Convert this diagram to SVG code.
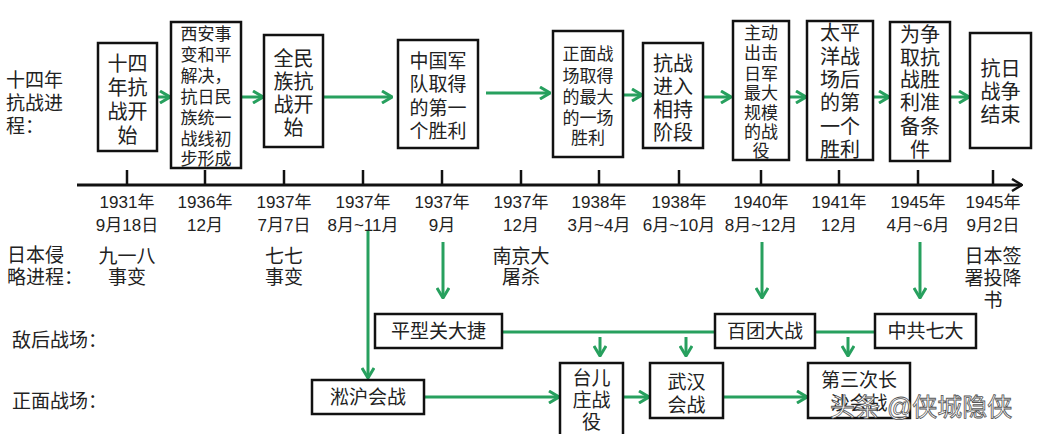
<svg xmlns="http://www.w3.org/2000/svg" width="1041" height="434" viewBox="0 0 1041 434">
<style>
text{font-family:"Liberation Sans","Noto Sans CJK SC",sans-serif;fill:#222;}
.box{fill:#fff;stroke:#111;stroke-width:2.5;}
.c{text-anchor:middle;}
.f20{font-size:20px;}
.f19{font-size:19px;}
.f17{font-size:17px;}
.g{stroke:#27a05e;stroke-width:3;fill:none;}
.gs{stroke:#27a05e;stroke-width:3;fill:none;marker-end:url(#ga);}
.tick{stroke:#111;stroke-width:2.5;}
.wm{font-size:25px;fill:#fff;stroke:#555;stroke-width:0.8;}
</style>
<defs>
<marker id="ga" viewBox="0 0 12 14" refX="11" refY="7" markerWidth="12" markerHeight="14" markerUnits="userSpaceOnUse" orient="auto">
<path d="M1,1 L11,7 L1,13" fill="none" stroke="#27a05e" stroke-width="3"/>
</marker>
<marker id="ka" viewBox="0 0 12 14" refX="11" refY="7" markerWidth="12" markerHeight="14" markerUnits="userSpaceOnUse" orient="auto">
<path d="M1,1 L11,7 L1,13" fill="none" stroke="#111" stroke-width="2.5"/>
</marker>
</defs>
<rect width="1041" height="434" fill="#fff"/>

<g id="labels">
<text class="f19" x="6" y="87">十四年<tspan x="6" y="110">抗战进</tspan><tspan x="6" y="133">程：</tspan></text>
<text class="f19" x="7" y="262">日本侵<tspan x="7" y="284">略进程：</tspan></text>
<text class="f19" x="12" y="347">敌后战场：</text>
<text class="f19" x="12" y="408">正面战场：</text>
</g>

<g id="axis">
<line x1="77" y1="185" x2="1022" y2="185" stroke="#111" stroke-width="3" marker-end="url(#ka)"/>
<line class="tick" x1="127" y1="170" x2="127" y2="185"/>
<line class="tick" x1="205" y1="170" x2="205" y2="185"/>
<line class="tick" x1="284" y1="170" x2="284" y2="185"/>
<line class="tick" x1="363" y1="170" x2="363" y2="185"/>
<line class="tick" x1="442" y1="170" x2="442" y2="185"/>
<line class="tick" x1="521" y1="170" x2="521" y2="185"/>
<line class="tick" x1="599" y1="170" x2="599" y2="185"/>
<line class="tick" x1="679" y1="170" x2="679" y2="185"/>
<line class="tick" x1="761" y1="170" x2="761" y2="185"/>
<line class="tick" x1="839" y1="170" x2="839" y2="185"/>
<line class="tick" x1="918" y1="170" x2="918" y2="185"/>
<line class="tick" x1="993" y1="170" x2="993" y2="185"/>
</g>

<g id="dates" class="f17">
<text class="c" x="127" y="208">1931年<tspan x="127" y="231">9月18日</tspan></text>
<text class="c" x="205" y="208">1936年<tspan x="205" y="231">12月</tspan></text>
<text class="c" x="284" y="208">1937年<tspan x="284" y="231">7月7日</tspan></text>
<text class="c" x="363" y="208">1937年<tspan x="363" y="231">8月~11月</tspan></text>
<text class="c" x="442" y="208">1937年<tspan x="442" y="231">9月</tspan></text>
<text class="c" x="521" y="208">1937年<tspan x="521" y="231">12月</tspan></text>
<text class="c" x="599" y="208">1938年<tspan x="599" y="231">3月~4月</tspan></text>
<text class="c" x="679" y="208">1938年<tspan x="679" y="231">6月~10月</tspan></text>
<text class="c" x="761" y="208">1940年<tspan x="761" y="231">8月~12月</tspan></text>
<text class="c" x="839" y="208">1941年<tspan x="839" y="231">12月</tspan></text>
<text class="c" x="918" y="208">1945年<tspan x="918" y="231">4月~6月</tspan></text>
<text class="c" x="993" y="208">1945年<tspan x="993" y="231">9月2日</tspan></text>
</g>

<g id="events" class="f19">
<text class="c" x="127" y="263">九一八<tspan x="127" y="284">事变</tspan></text>
<text class="c" x="284" y="263">七七<tspan x="284" y="284">事变</tspan></text>
<text class="c" x="521" y="263">南京大<tspan x="521" y="284">屠杀</tspan></text>
<text class="c" x="993" y="263">日本签<tspan x="993" y="285">署投降</tspan><tspan x="993" y="307">书</tspan></text>
</g>

<g id="connectors">
<line class="gs" x1="157" y1="97" x2="170" y2="97"/>
<line class="gs" x1="241" y1="97" x2="263" y2="97"/>
<line class="gs" x1="323" y1="97" x2="392" y2="97"/>
<line class="gs" x1="486" y1="93" x2="550" y2="93"/>
<line class="gs" x1="623" y1="95" x2="642" y2="95"/>
<line class="gs" x1="703" y1="97" x2="731" y2="97"/>
<line class="gs" x1="789" y1="97" x2="806" y2="97"/>
<line class="gs" x1="873" y1="97" x2="889" y2="97"/>
<line class="gs" x1="950" y1="97" x2="969" y2="97"/>
<line class="gs" x1="368" y1="231" x2="368" y2="378"/>
<line class="gs" x1="443" y1="242" x2="443" y2="298"/>
<line class="gs" x1="762" y1="242" x2="762" y2="298"/>
<line class="gs" x1="920" y1="242" x2="920" y2="298"/>
<line class="g" x1="502" y1="332" x2="715" y2="332"/>
<line class="g" x1="815" y1="332" x2="875" y2="332"/>
<line class="gs" x1="600" y1="337" x2="600" y2="356"/>
<line class="gs" x1="686" y1="337" x2="686" y2="356"/>
<line class="gs" x1="848" y1="337" x2="848" y2="356"/>
<line class="gs" x1="424" y1="397" x2="559" y2="397"/>
<line class="gs" x1="623" y1="397" x2="649" y2="397"/>
<line class="gs" x1="723" y1="397" x2="807" y2="397"/>
</g>

<g id="n1"><rect class="box" x="98" y="43" width="59" height="108"/>
<text class="c f20" x="127.5" y="71">十四<tspan x="127.5" y="95">年抗</tspan><tspan x="127.5" y="119">战开</tspan><tspan x="127.5" y="143">始</tspan></text></g>

<g id="n2"><rect class="box" x="171" y="22" width="70" height="146"/>
<text class="c f17" x="206" y="40">西安事<tspan x="206" y="61">变和平</tspan><tspan x="206" y="82">解决，</tspan><tspan x="206" y="103">抗日民</tspan><tspan x="206" y="124">族统一</tspan><tspan x="206" y="145">战线初</tspan><tspan x="206" y="165">步形成</tspan></text></g>

<g id="n3"><rect class="box" x="264" y="35" width="59" height="112"/>
<text class="c f20" x="293.5" y="66">全民<tspan x="293.5" y="89">族抗</tspan><tspan x="293.5" y="112">战开</tspan><tspan x="293.5" y="135">始</tspan></text></g>

<g id="n4"><rect class="box" x="398" y="40" width="80" height="108"/>
<text class="c f19" x="438" y="68">中国军<tspan x="438" y="91">队取得</tspan><tspan x="438" y="115">的第一</tspan><tspan x="438" y="138">个胜利</tspan></text></g>

<g id="n5"><rect class="box" x="553" y="31" width="70" height="126"/>
<text class="c f17" x="588" y="60">正面战<tspan x="588" y="82">场取得</tspan><tspan x="588" y="103">的最大</tspan><tspan x="588" y="124">的一场</tspan><tspan x="588" y="144">胜利</tspan></text></g>

<g id="n6"><rect class="box" x="643" y="43" width="60" height="105"/>
<text class="c f20" x="673" y="71">抗战<tspan x="673" y="94">进入</tspan><tspan x="673" y="117">相持</tspan><tspan x="673" y="140">阶段</tspan></text></g>

<g id="n7"><rect class="box" x="733" y="21" width="56" height="139"/>
<text class="c f17" x="761" y="39">主动<tspan x="761" y="59">出击</tspan><tspan x="761" y="80">日军</tspan><tspan x="761" y="99">最大</tspan><tspan x="761" y="119">规模</tspan><tspan x="761" y="138">的战</tspan><tspan x="761" y="157">役</tspan></text></g>

<g id="n8"><rect class="box" x="807" y="21" width="66" height="139"/>
<text class="c f20" x="840" y="40">太平<tspan x="840" y="64">洋战</tspan><tspan x="840" y="87">场后</tspan><tspan x="840" y="110">的第</tspan><tspan x="840" y="134">一个</tspan><tspan x="840" y="157">胜利</tspan></text></g>

<g id="n9"><rect class="box" x="890" y="22" width="60" height="139"/>
<text class="c f20" x="920" y="42">为争<tspan x="920" y="65">取抗</tspan><tspan x="920" y="87">战胜</tspan><tspan x="920" y="110">利准</tspan><tspan x="920" y="134">备条</tspan><tspan x="920" y="157">件</tspan></text></g>

<g id="n10"><rect class="box" x="970" y="33" width="61" height="115"/>
<text class="c f20" x="1000.5" y="76">抗日<tspan x="1000.5" y="99">战争</tspan><tspan x="1000.5" y="122">结束</tspan></text></g>

<g id="n11"><rect class="box" x="375" y="314" width="127" height="34"/>
<text class="c f19" x="438.5" y="338">平型关大捷</text></g>
<g id="n12"><rect class="box" x="715" y="314" width="100" height="34"/>
<text class="c f19" x="765" y="338">百团大战</text></g>
<g id="n13"><rect class="box" x="875" y="314" width="101" height="34"/>
<text class="c f19" x="925.5" y="338">中共七大</text></g>

<g id="n14"><rect class="box" x="312" y="380" width="112" height="34"/>
<text class="c f19" x="368" y="404">淞沪会战</text></g>
<g id="n15"><rect class="box" x="560" y="363" width="63" height="80"/>
<text class="c f19" x="591.5" y="385">台儿<tspan x="591.5" y="407">庄战</tspan><tspan x="591.5" y="429">役</tspan></text></g>
<g id="n16"><rect class="box" x="650" y="363" width="73" height="55"/>
<text class="c f19" x="686.5" y="389">武汉<tspan x="686.5" y="412">会战</tspan></text></g>
<g id="n17"><rect class="box" x="808" y="363" width="102" height="55"/>
<text class="c f19" x="859" y="387">第三次长<tspan x="859" y="410">沙会战</tspan></text></g>

<text class="wm" x="830" y="416">头条 @侠城隐侠</text>
</svg>
